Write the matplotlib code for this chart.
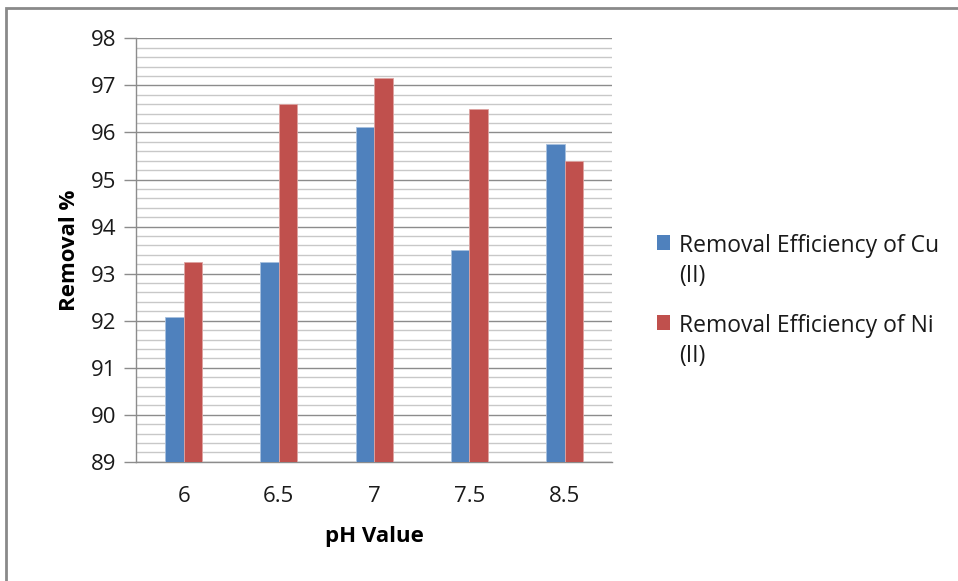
import numpy as np
import matplotlib.pyplot as plt
from matplotlib.patches import Rectangle
from matplotlib.container import BarContainer
from matplotlib.legend_handler import HandlerPatch

plt.rcParams['font.family'] = ['Open Sans', 'DejaVu Sans']

ph_labels = ["6", "6.5", "7", "7.5", "8.5"]
cu_removal = [92.07, 93.24, 96.12, 93.51, 95.75]
ni_removal = [93.24, 96.61, 97.16, 96.50, 95.40]

cu_color = "#4F81BD"
ni_color = "#C0504D"

fig = plt.figure(figsize=(9.58, 5.81), dpi=100)
ax = fig.add_axes([0.142, 0.205, 0.497, 0.729])

x = np.arange(len(ph_labels))
w = 0.195
ax.bar(x - w / 2, np.array(cu_removal) - 89, w, bottom=89, color=cu_color,
       edgecolor="#A7C0DE", linewidth=0.6, label="Removal Efficiency of Cu\n(II)", zorder=3)
ax.bar(x + w / 2, np.array(ni_removal) - 89, w, bottom=89, color=ni_color,
       edgecolor="#DDA3A1", linewidth=0.6, label="Removal Efficiency of Ni\n(II)", zorder=3)

ax.set_xlim(-0.5, len(ph_labels) - 0.5)
ax.set_ylim(89, 98)
ax.set_xticks(x)
ax.set_xticklabels(ph_labels)
ax.set_yticks(np.arange(89, 99, 1))
ax.set_yticks(np.arange(89, 98.01, 0.2), minor=True)

# major and minor horizontal grid
ax.grid(axis="y", which="major", color="#8C8C8C", linewidth=1.0, zorder=0)
ax.grid(axis="y", which="minor", color="#C8C8C8", linewidth=1.0, zorder=0)
ax.set_axisbelow(True)

for s in ["top", "right"]:
    ax.spines[s].set_visible(False)
ax.spines["left"].set_color("#8C8C8C")
ax.spines["bottom"].set_color("#8C8C8C")
ax.spines["left"].set_linewidth(1.0)
ax.spines["bottom"].set_linewidth(1.0)

ax.tick_params(axis="y", which="major", length=9, width=1.0, color="#8C8C8C",
               labelsize=16, pad=5, labelcolor="#1A1A1A")
ax.tick_params(axis="y", which="minor", length=0)
ax.tick_params(axis="x", length=0, labelsize=16, pad=17, labelcolor="#1A1A1A")

ax.set_ylabel("Removal %", fontsize=16, fontweight="bold", labelpad=8)
ax.set_xlabel("pH Value", fontsize=16, fontweight="bold", labelpad=14)


# square legend key sitting on the first line of a two-line label
def top_square(legend, orig_handle, xdescent, ydescent, width, height, fontsize):
    return Rectangle((-xdescent, -ydescent + 14), width, height)


def first_bar_style(legend_handle, orig_handle):
    legend_handle.update_from(orig_handle.patches[0])
    legend_handle.set_linewidth(0)


leg = ax.legend(loc="center left", bbox_to_anchor=(1.05, 0.38), frameon=False,
                fontsize=16.5, handlelength=0.58, handleheight=0.58, handletextpad=0.4,
                labelspacing=1.12,
                handler_map={BarContainer: HandlerPatch(patch_func=top_square,
                                                        update_func=first_bar_style)})
for t in leg.get_texts():
    t.set_linespacing(1.35)
    t.set_color("#1A1A1A")

# chart frame
fig.patches.append(Rectangle((0.006, -0.05), 1.5, 1.037, transform=fig.transFigure,
                             fill=False, edgecolor="#8A8A8A", linewidth=2.0))

fig.savefig("out.png", dpi=100)
